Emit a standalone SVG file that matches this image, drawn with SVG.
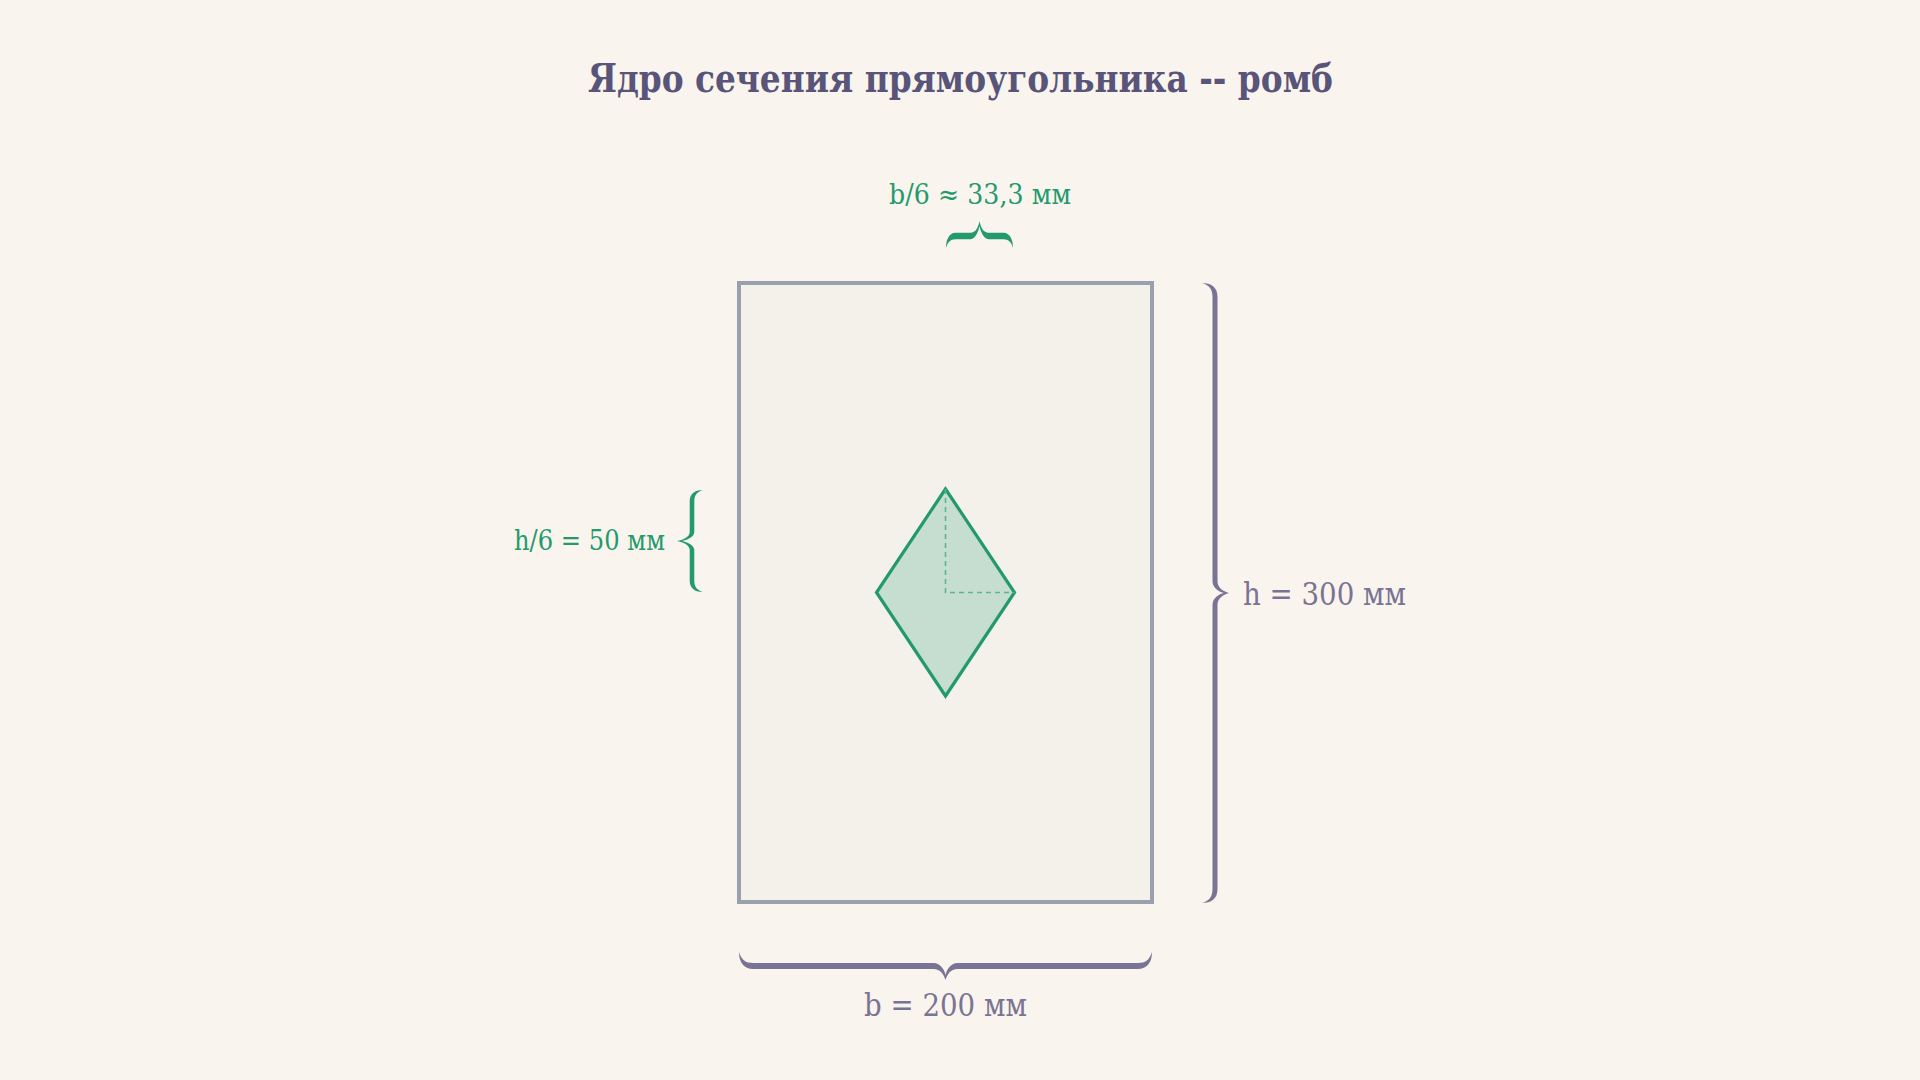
<svg xmlns="http://www.w3.org/2000/svg" width="1920" height="1080" viewBox="0 0 1920 1080">
<style>
.title{font-family:'DejaVu Serif Condensed','DejaVu Serif',serif;font-stretch:condensed;font-weight:bold;font-size:40px;fill:#595479}
.lblp{font-family:'DejaVu Serif','Liberation Serif',serif;font-size:31px;fill:#7A7494}
.lblg{font-family:'DejaVu Serif Condensed','DejaVu Serif',serif;font-stretch:condensed;font-size:28px;fill:#239A6C}
.bp{fill:#7A7494}
.bg{fill:#239A6C}
</style>
<rect width="1920" height="1080" fill="#FAF4EE"/>
<text class="title" x="588" y="92" textLength="745" lengthAdjust="spacingAndGlyphs">Ядро сечения прямоугольника -- ромб</text>
<g id="section">
<rect x="739" y="283" width="413" height="619" fill="#F4F0EA" stroke="#9AA0AE" stroke-width="4"/>
</g>
<g id="core">
<polygon points="945.5,489 1014.5,592.5 945.5,696 876.5,592.5" fill="#C6DECF" stroke="#239A6C" stroke-width="3.2" stroke-linejoin="miter"/>
<polyline points="945.5,489 945.5,592.5 1014.5,592.5" fill="none" stroke="#5DB58F" stroke-width="1.6" stroke-dasharray="5,4"/>
</g>
<g id="connectors">
<path class="bp" transform="translate(1215,593)" d="M -13,-310 C -4,-310 2.5,-306 2.5,-296 L 2.5,-12 C 2.5,-5 8,-2 14,0 C 8,2 2.5,5 2.5,12 L 2.5,296 C 2.5,306 -4,310 -13,310 C -6,308 -2.5,304 -2.5,296 L -2.5,12 C -2.5,5 4,1 9,0 C 4,-1 -2.5,-5 -2.5,-12 L -2.5,-296 C -2.5,-304 -6,-308 -13,-310 Z"/>
<path class="bp" transform="translate(945.5,966) rotate(90)" d="M -14,-206.5 C -4,-206.5 3,-202 3,-192 L 3,-12 C 3,-5 8,-2 14,0 C 8,2 3,5 3,12 L 3,192 C 3,202 -4,206.5 -14,206.5 C -6,204 -3,200 -3,192 L -3,12 C -3,5 4,1 9,0 C 4,-1 -3,-5 -3,-12 L -3,-192 C -3,-200 -6,-204 -14,-206.5 Z"/>
<path class="bg" transform="translate(692,541) rotate(180)" d="M -11,-51 C -4,-51 2.3,-48 2.3,-40 L 2.3,-9 C 2.3,-4 9,-1 15,0 C 9,1 2.3,4 2.3,9 L 2.3,40 C 2.3,48 -4,51 -11,51 C -5,49 -2.3,46 -2.3,40 L -2.3,9 C -2.3,4 5,1 10,0 C 5,-1 -2.3,-4 -2.3,-9 L -2.3,-40 C -2.3,-46 -5,-49 -11,-51 Z"/>
<path class="bg" transform="translate(979.5,236) rotate(-90)" d="M -12,-33.5 C -5,-33.5 3.2,-31 3.2,-24 L 3.2,-9 C 3.2,-4 9,-1 15,0 C 9,1 3.2,4 3.2,9 L 3.2,24 C 3.2,31 -5,33.5 -12,33.5 C -6,32 -3.2,29 -3.2,24 L -3.2,9 C -3.2,4 5,1 10,0 C 5,-1 -3.2,-4 -3.2,-9 L -3.2,-24 C -3.2,-29 -6,-32 -12,-33.5 Z"/>
</g>
<g id="labels">
<text class="lblp" x="1243" y="605" textLength="163" lengthAdjust="spacingAndGlyphs">h = 300 мм</text>
<text class="lblp" x="864" y="1016" textLength="163" lengthAdjust="spacingAndGlyphs">b = 200 мм</text>
<text class="lblg" x="514" y="550" textLength="151" lengthAdjust="spacingAndGlyphs">h/6 = 50 мм</text>
<text class="lblg" x="889" y="204" textLength="182" lengthAdjust="spacing">b/6 ≈ 33,3 мм</text>
</g>
</svg>
